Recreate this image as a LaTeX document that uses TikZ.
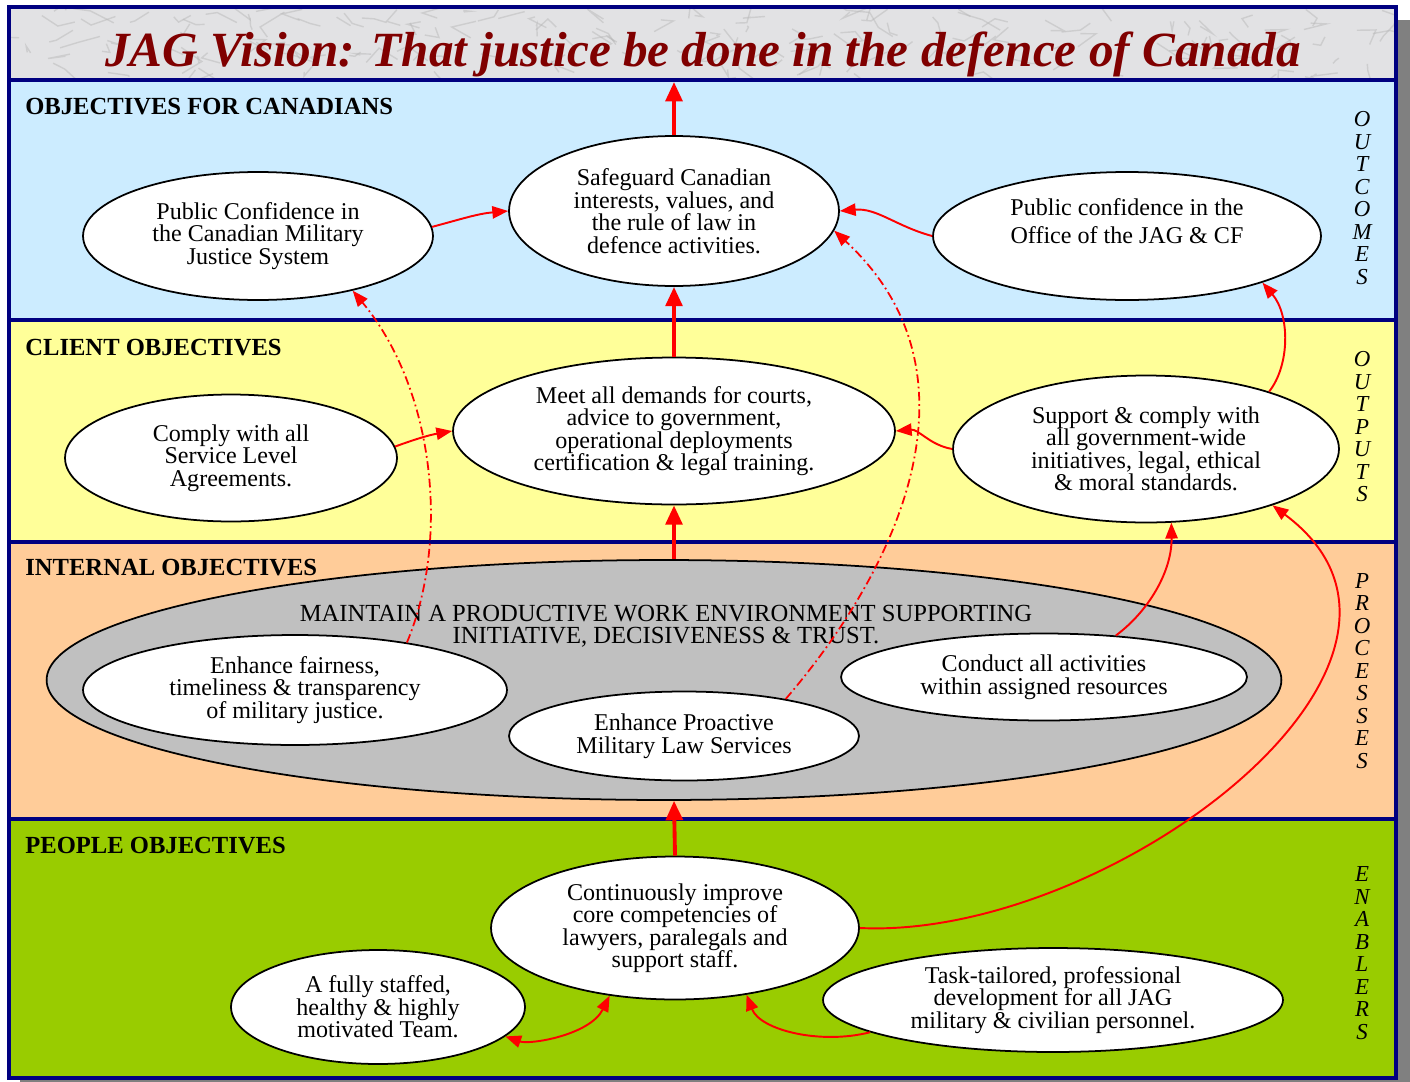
\documentclass[tikz,border=0pt]{standalone}
\usepackage{fontspec}
\setmainfont{Liberation Serif}
\usetikzlibrary{shapes.geometric,arrows.meta}

\definecolor{navy}{RGB}{0,0,128}
\definecolor{maroon}{RGB}{128,0,0}
\definecolor{skyband}{RGB}{204,236,255}
\definecolor{lemonband}{RGB}{255,255,153}
\definecolor{peachband}{RGB}{255,204,153}
\definecolor{grassband}{RGB}{153,204,0}
\definecolor{silver}{RGB}{192,192,192}
\definecolor{marble}{RGB}{226,226,228}

\tikzset{
  goal/.style={ellipse,draw,fill=white,line width=1pt,align=center,inner sep=0pt,
    font=\fontsize{13.7}{12.8}\selectfont},
  heading/.style={anchor=base west,inner sep=0pt,font=\fontsize{14}{14}\selectfont\bfseries},
  side/.style={align=center,inner sep=0pt,font=\fontsize{13}{12.8}\selectfont\itshape},
  flow/.style={red,line width=2.2pt,-{Triangle[length=11pt,width=9.5pt]}},
  link/.style={red,line width=1.1pt,-{Triangle[length=9pt,width=7pt]}},
  hint/.style={link,line width=1pt,dash pattern=on 5pt off 2pt on 1pt off 2pt},
}

\begin{document}
\begin{tikzpicture}[x=0.02cm,y=-0.02cm]
\useasboundingbox (0,0) rectangle (1410,1082);

% shadow and bands
\fill[gray] (20,20) rectangle (1410,1082);
\fill[marble] (9,7) rectangle (1396,80);
\begin{scope}
  \clip (9,7) rectangle (1396,80);
  \pgfmathsetseed{11}
  \foreach \i in {1,...,160}
    \draw[gray!55,line width=0.8pt,opacity=0.5]
      ({9+rnd*1387},{7+rnd*73}) -- ++({rnd*50-25},{rnd*30-15}) -- ++({rnd*40-20},{rnd*24-12});
\end{scope}
\fill[skyband] (9,80) rectangle (1396,320);
\fill[lemonband] (9,320) rectangle (1396,542);
\fill[peachband] (9,542) rectangle (1396,819);
\fill[grassband] (9,819) rectangle (1396,1078);
\foreach \y in {80,320,542,819}
  \draw[navy,line width=2pt] (9,\y) -- (1396,\y);
\draw[navy,line width=2pt] (9,7) rectangle (1396,1078);

\node[anchor=base,inner sep=0pt,text=maroon,font=\fontsize{28}{28}\selectfont\bfseries\itshape]
  (vision) at (703,66) {JAG Vision: That justice be done in the defence of Canada};
\coordinate (vtop) at (674,82);

\node[heading] (hcan) at (25,114) {OBJECTIVES FOR CANADIANS};
\node[heading] (hcli) at (25,355) {CLIENT OBJECTIVES};
\node[heading] (hint) at (25,575) {INTERNAL OBJECTIVES};
\node[heading] (hpeo) at (25,853) {PEOPLE OBJECTIVES};

\node[side] (soutc) at (1362,198) {O\\U\\T\\C\\O\\M\\E\\S};
\node[side] (soutp) at (1362,427) {O\\U\\T\\P\\U\\T\\S};
\node[side] (sproc) at (1362,671) {P\\R\\O\\C\\E\\S\\S\\E\\S};
\node[side] (senab) at (1362,953) {E\\N\\A\\B\\L\\E\\R\\S};

% outcomes
\node[goal,minimum width=6.6cm,minimum height=3cm] (safe) at (674,211)
  {Safeguard Canadian\\interests, values, and\\the rule of law in\\defence activities.};
\node[goal,minimum width=7cm,minimum height=2.56cm] (pcl) at (258,236)
  {Public Confidence in\\the Canadian Military\\Justice System};
\node[goal,minimum width=7.76cm,minimum height=2.56cm] (pcr) at (1127,236)
  {Public confidence in the\\[3pt]Office of the JAG \& CF\\[4pt]};

% outputs
\node[goal,minimum width=8.84cm,minimum height=2.94cm] (meet) at (674,431)
  {Meet all demands for courts,\\advice to government,\\operational deployments\\certification \& legal training.};
\node[goal,minimum width=6.64cm,minimum height=2.54cm] (comply) at (231,458)
  {Comply with all\\Service Level\\Agreements.};
\node[goal,minimum width=7.72cm,minimum height=2.94cm] (support) at (1146,449)
  {Support \& comply with\\all government-wide\\initiatives, legal, ethical\\\& moral standards.};

% processes
\node[ellipse,draw,fill=silver,line width=1pt,minimum width=24.7cm,minimum height=4.8cm] (maintain) at (664,680) {};
\node[align=center,inner sep=0pt,font=\fontsize{14}{12.6}\selectfont] (maintext) at (666,626)
  {MAINTAIN A PRODUCTIVE WORK ENVIRONMENT SUPPORTING\\INITIATIVE, DECISIVENESS \& TRUST.};
\node[goal,minimum width=8.48cm,minimum height=2.2cm] (fair) at (295,690)
  {Enhance fairness,\\timeliness \& transparency\\of military justice.};
\node[goal,minimum width=7cm,minimum height=1.78cm] (pro) at (684,736)
  {Enhance Proactive\\Military Law Services};
\node[goal,minimum width=8.12cm,minimum height=1.74cm] (conduct) at (1044,677)
  {Conduct all activities\\within assigned resources};

% enablers
\node[goal,minimum width=7.36cm,minimum height=2.86cm] (cont) at (675,928)
  {Continuously improve\\core competencies of\\lawyers, paralegals and\\support staff.};
\node[goal,minimum width=5.88cm,minimum height=2.28cm] (full) at (378,1007)
  {A fully staffed,\\healthy \& highly\\motivated Team.};
\node[goal,minimum width=9.2cm,minimum height=2.08cm] (task) at (1053,1000)
  {Task-tailored, professional\\development for all JAG\\military \& civilian personnel.};

% connectors
\draw[flow] (safe.north) -- (vtop);
\draw[flow] (meet.north) -- (safe.south);
\draw[flow] (meet.south |- maintain.north) -- (meet.south);
\draw[flow] (cont.north) -- (meet.south |- maintain.south);

\draw[link] (pcl.3) to[out=15,in=185] (safe.west);
\draw[link] (pcr.west) to[out=165,in=5] (safe.east);
\draw[link] (comply.4) to[out=20,in=190] (meet.west);
\draw[link] (support.west) to[out=170,in=5] (meet.east);
\draw[link] (support.25) .. controls (1290,365) and (1290,315) .. (pcr.341);
\draw[link] (conduct.30) .. controls (1150,610) and (1172,570) .. (support.289);
\draw[link] (cont.east) .. controls (1110,940) and (1480,660) .. (support.336);
\draw[link,{Triangle[length=9pt,width=7pt]}-{Triangle[length=9pt,width=7pt]}]
  (full.347) .. controls (530,1045) and (590,1035) .. (cont.226);
\draw[link] (task.190) .. controls (820,1045) and (760,1030) .. (cont.317);
\draw[hint] (fair.23) .. controls (450,540) and (435,390) .. (pcl.330);
\draw[hint] (pro.20) .. controls (905,560) and (985,370) .. (safe.353);
\end{tikzpicture}
\end{document}
